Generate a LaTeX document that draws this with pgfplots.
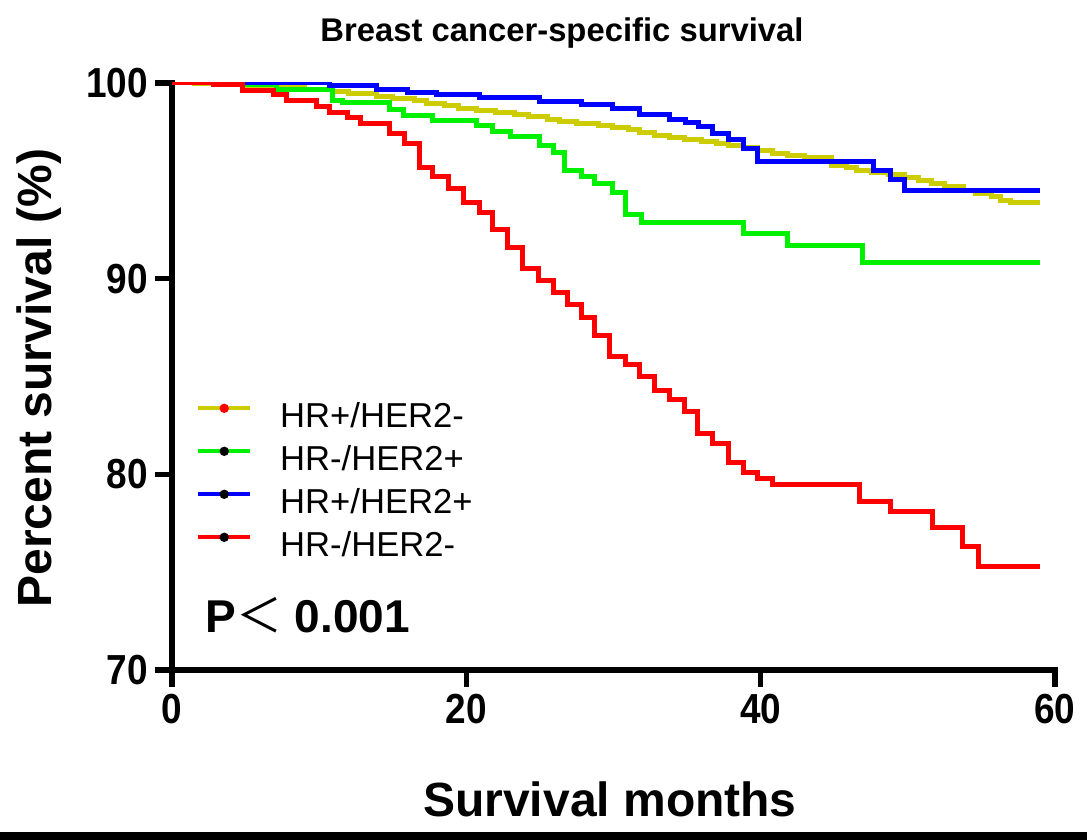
\documentclass[border=0pt]{standalone}
\usepackage{fontspec}
\setmainfont{Liberation Sans}
\newfontfamily\tickfont[FakeStretch=0.88]{Liberation Sans}
\newfontfamily\cjk{Noto Sans CJK SC}
\usepackage{pgfplots}
\pgfplotsset{compat=1.18}

\definecolor{cYel}{RGB}{204,204,0}
\definecolor{cGrn}{RGB}{0,240,0}
\definecolor{cBlu}{RGB}{0,0,255}
\definecolor{cRed}{RGB}{255,0,0}

\begin{document}
\begin{tikzpicture}
% 1 px of the reference = 0.5pt, axis origin at px (172,670)
\useasboundingbox (-86pt,-85pt) rectangle (457.5pt,335pt);
\begin{axis}[
    at={(0,0)}, anchor=south west,
    scale only axis,
    width=441.5pt, height=293.5pt,
    xmin=0, xmax=60,
    ymin=70, ymax=100,
    axis lines*=left,
    axis line style={line width=2.6pt, line cap=rect},
    xtick={0,20,40,60},
    ytick={70,80,90,100},
    tick align=outside,
    major tick length=8.5pt,
    tick style={line width=2.6pt, black},
    tick label style={font=\tickfont\fontsize{21}{21}\selectfont\bfseries},
    /pgf/number format/assume math mode=true,
    legend style={
        at={(0.027,0.455)}, anchor=north west,
        draw=none, fill=none,
        font=\fontsize{17.3}{17.3}\selectfont,
        inner sep=0pt,
        row sep=6.5pt,
        column sep=14pt,
        nodes={inner sep=0pt, text height=12pt, text depth=3pt},
    },
    legend cell align=left,
    legend image code/.code={
        \draw[#1, line width=2pt] (0pt,5pt) -- (26pt,5pt);
        \fill[black] (13pt,5pt) circle (1pt);
    },
]

% HR+/HER2-
\addplot[cYel, const plot, line width=2.5pt,
    legend image code/.code={
        \draw[cYel, line width=2pt] (0pt,5pt) -- (26pt,5pt);
        \fill[cRed] (13pt,5pt) circle (1pt);
    }] coordinates {
    (0,100) (1.5,99.95) (3,99.9) (4.8,99.85) (7,99.75) (9,99.65)
    (10.9,99.56) (12,99.45) (13.9,99.3) (15,99.2) (16.5,99.1)
    (17.3,98.96) (18.5,98.85) (19.5,98.72) (20.7,98.6) (22,98.5)
    (23.3,98.4) (24.2,98.28) (25.5,98.15) (26.3,98.05) (27.5,97.95)
    (29,97.85) (29.9,97.7) (31,97.6) (31.8,97.45) (32.8,97.34)
    (33.8,97.2) (34.8,97.09) (36,97.0) (37,96.92) (37.8,96.8)
    (38.8,96.7) (39.8,96.55) (40.8,96.4) (41.8,96.3) (43,96.2)
    (44.8,95.8) (45.8,95.7) (46.5,95.55) (47.5,95.45) (48.7,95.3)
    (49.8,95.15) (50.7,95.04) (51.6,94.85) (52.5,94.7) (53.8,94.5)
    (54.6,94.36) (55.7,94.2) (56.3,94.0) (57,93.9) (59,93.9)
};
\addlegendentry{HR+/HER2-}

% HR-/HER2+
\addplot[cGrn, const plot, line width=2.5pt] coordinates {
    (0,100) (4,99.9) (7.1,99.68) (10.9,99.13) (11.6,98.98)
    (14.8,98.67) (15.7,98.36) (17.7,98.1) (20.7,97.85) (21.8,97.5)
    (23,97.24) (25,96.8) (25.9,96.47) (26.7,95.55) (27.8,95.2)
    (28.7,94.85) (29.9,94.4) (30.8,93.3) (31.9,92.85) (38.8,92.3)
    (41.8,91.67) (46.9,90.85) (59,90.85)
};
\addlegendentry{HR-/HER2+}

% HR+/HER2+
\addplot[cBlu, const plot, line width=2.5pt] coordinates {
    (0,100) (10.7,99.85) (13.9,99.68) (16,99.5) (18,99.39)
    (20.9,99.27) (25,99.05) (27.8,98.9) (29.9,98.7) (31.8,98.4)
    (33.8,98.14) (34.9,97.97) (35.8,97.77) (36.7,97.4) (37.8,97.12)
    (38.8,96.66) (39.8,95.98) (47.7,95.55) (48.8,95.08) (49.8,94.5)
    (59,94.5)
};
\addlegendentry{HR+/HER2+}

% HR-/HER2-
\addplot[cRed, const plot, line width=2.5pt] coordinates {
    (0,100) (2.8,99.9) (4.8,99.64) (6.9,99.39) (7.8,99.13)
    (9.85,98.8) (10.7,98.5) (11.9,98.26) (12.8,97.95) (14.8,97.4)
    (15.8,96.9) (16.8,95.7) (17.7,95.2) (18.8,94.6) (19.8,93.9)
    (20.9,93.4) (21.8,92.5) (22.8,91.6) (23.8,90.5) (24.9,89.9)
    (25.9,89.3) (26.9,88.7) (27.85,88.0) (28.7,87.1) (29.75,86.0)
    (30.8,85.6) (31.8,85.0) (32.8,84.3) (33.8,83.8) (34.85,83.2)
    (35.7,82.1) (36.75,81.6) (37.8,80.6) (38.8,80.1) (39.8,79.8)
    (40.8,79.5) (46.7,78.6) (48.8,78.1) (51.7,77.3) (53.7,76.3)
    (54.8,75.3) (59,75.3)
};
\addlegendentry{HR-/HER2-}

\end{axis}

% titles and labels
\node[anchor=base, font=\fontsize{16.4}{16.4}\selectfont\bfseries]
    at (195pt,314pt) {Breast cancer-specific survival};
\node[anchor=base, font=\fontsize{24}{24}\selectfont\bfseries]
    at (219pt,-73.5pt) {Survival months};
\node[anchor=base, rotate=90, font=\fontsize{24}{24}\selectfont\bfseries]
    at (-60pt,146pt) {Percent survival (\%)};
\node[anchor=base west, inner sep=0pt, font=\fontsize{23}{23}\selectfont\bfseries]
    at (16.5pt,18.5pt) {P{\cjk\mdseries ＜} 0.001};

% black rule at the bottom edge
\fill[black] (-86pt,-85pt) rectangle (457.5pt,-81pt);
\end{tikzpicture}
\end{document}
